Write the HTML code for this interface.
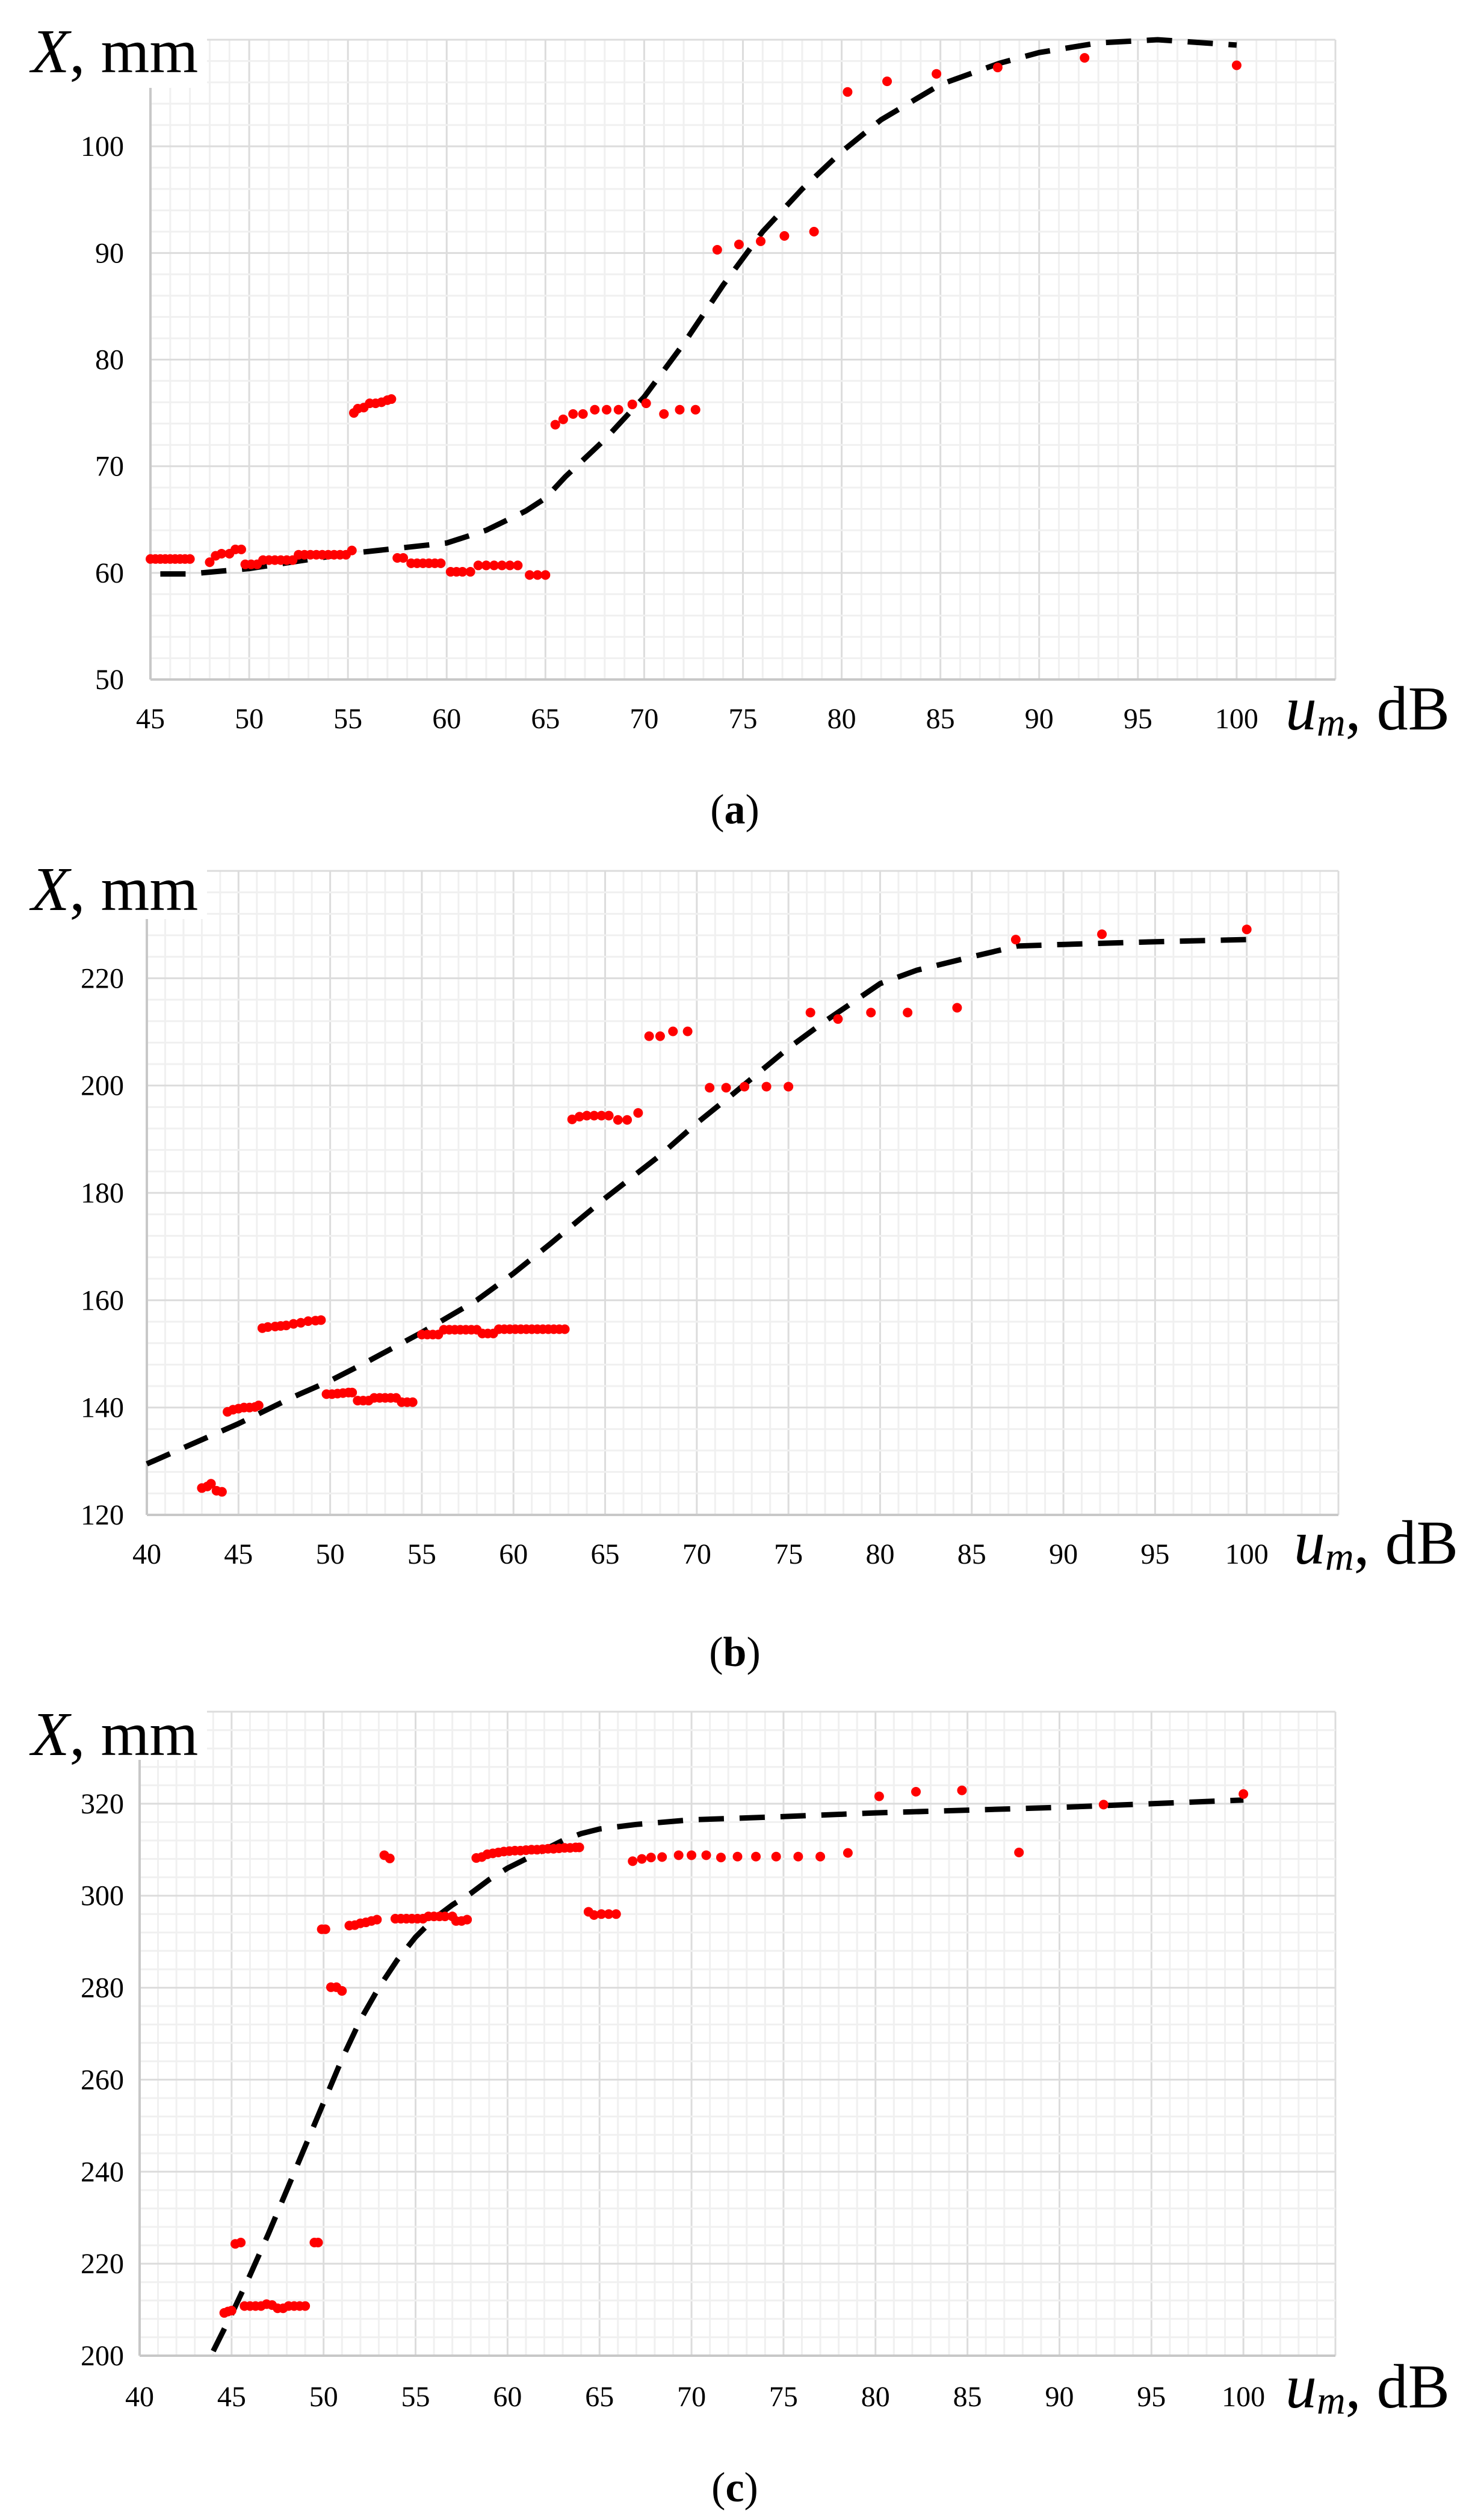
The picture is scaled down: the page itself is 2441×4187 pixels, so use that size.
<!DOCTYPE html>
<html><head><meta charset="utf-8"><style>
html,body{margin:0;padding:0;background:#fff;}
svg{display:block;}
text{font-family:"Liberation Serif",serif;fill:#000;}
</style></head><body>
<svg id="fig" width="2441" height="4187" viewBox="0 0 2441 4187" xmlns="http://www.w3.org/2000/svg"></svg>
<script>
// ---------- Chart (a) data ----------
const aPtsX = [45,45.25,45.5,45.75,46,46.25,46.5,46.75,47, 48,48.3,48.6,49,49.3,49.6, 49.8,50.1,50.4, 50.7,51,51.3,51.6,51.9,52.2, 52.5,52.8,53.1,53.4,53.7,54,54.3,54.6,54.9,55.2,
 55.3,55.5,55.8,56.1,56.4,56.7,57,57.2, 57.5,57.8, 58.2,58.5,58.8,59.1,59.4,59.7, 60.2,60.5,60.8,61.2, 61.6,62,62.4,62.8,63.2,63.6, 64.2,64.6,65,
 65.5,65.9,66.4,66.9,67.5,68.1,68.7,69.4,70.1,71,71.8,72.6, 73.7,74.8,75.9,77.1,78.6, 80.3,82.3,84.8,87.9,92.3,100];
const aPtsY = [61.3,61.3,61.3,61.3,61.3,61.3,61.3,61.3,61.3, 61,61.6,61.8,61.8,62.2,62.2, 60.8,60.8,60.8, 61.2,61.2,61.2,61.2,61.2,61.2, 61.7,61.7,61.7,61.7,61.7,61.7,61.7,61.7,61.7,62.1,
 75,75.4,75.5,75.9,75.9,76,76.2,76.3, 61.4,61.4, 60.9,60.9,60.9,60.9,60.9,60.9, 60.1,60.1,60.1,60.1, 60.7,60.7,60.7,60.7,60.7,60.7, 59.8,59.8,59.8,
 73.9,74.4,74.9,74.9,75.3,75.3,75.3,75.8,75.9,74.9,75.3,75.3, 90.3,90.8,91.1,91.6,92, 105.1,106.1,106.8,107.4,108.3,107.6];
const aFitX = [45.5,47,50,55,60,62,64,65,66,68,70,72,74,76,78,80,82,85,88,90,93,96,100];
const aFitY = [59.9,59.9,60.4,61.8,62.8,64,65.8,67,69,72.5,76.5,81.5,87,92,96,99.5,102.5,105.8,107.8,108.8,109.7,110,109.5];
const aXTicks = [45,50,55,60,65,70,75,80,85,90,95,100];
const aYTicks = [50,60,70,80,90,100];

// ---------- Chart (b) data ----------
const bPtsX = [43,43.3,43.5,43.8,44.1, 44.4,44.7,45,45.3,45.6,45.9,46.1, 46.3,46.6,47,47.3,47.6,48,48.4,48.8,49.2,49.5,
 49.8,50.1,50.4,50.7,51,51.2, 51.5,51.8,52.1, 52.4,52.7,53,53.3,53.6, 53.9,54.2,54.5,
 55,55.3,55.6,55.9, 56.2,56.5,56.8,57.1,57.4,57.7,58, 58.3,58.6,58.9, 59.2,59.5,59.8,60.1,60.4,60.7,61,61.3,61.6,61.9,62.2,62.5,62.8,
 63.2,63.6,64,64.4,64.8,65.2,65.7,66.2,66.8, 67.4,68,68.7,69.5, 70.7,71.6,72.6,73.8,75, 76.2,77.7,79.5,81.5,84.2, 87.4,92.1,100];
const bPtsY = [125,125.3,125.8,124.5,124.3, 139.2,139.6,139.8,140,140,140.1,140.4, 154.8,155,155.1,155.2,155.3,155.6,155.8,156.1,156.2,156.3,
 142.5,142.5,142.6,142.7,142.8,142.8, 141.3,141.3,141.3, 141.8,141.8,141.8,141.8,141.8, 141,141,141,
 153.6,153.6,153.6,153.6, 154.5,154.5,154.5,154.5,154.5,154.5,154.5, 153.8,153.8,153.8, 154.6,154.6,154.6,154.6,154.6,154.6,154.6,154.6,154.6,154.6,154.6,154.6,154.6,
 193.7,194.2,194.4,194.4,194.4,194.4,193.6,193.6,194.9, 209.2,209.2,210.1,210.1, 199.6,199.6,199.8,199.8,199.8, 213.6,212.4,213.6,213.6,214.5, 227.2,228.2,229.1];
const bFitX = [40,42,45,48,50,52,55,58,60,62,65,68,70,72,75,77,80,82,85,87.5,90,95,100];
const bFitY = [129.5,132.5,137,142,145,148.5,154,160,165,170.5,179,187,193,198.5,207,212,219,221.5,224,226,226.3,226.8,227.2];
const bXTicks = [40,45,50,55,60,65,70,75,80,85,90,95,100];
const bYTicks = [120,140,160,180,200,220];

// ---------- Chart (c) data ----------
const cPtsX = [44.6,44.8,45, 45.2,45.5, 45.7,46,46.3,46.6,46.9,47.2,47.5,47.8,48.1,48.4,48.7,49, 49.5,49.7, 49.9,50.1, 50.4,50.7,51,
 51.4,51.7,52,52.3,52.6,52.9, 53.3,53.6, 53.9,54.2,54.5,54.8,55.1,55.4,55.7,56,56.3,56.6,57, 57.2,57.5,57.8,
 58.3,58.6,58.9,59.2,59.5,59.8,60.1,60.4,60.7,61,61.3,61.6,61.9,62.2,62.5,62.8,63.1,63.4,63.7,63.9,
 64.4,64.7,65.1,65.5,65.9, 66.8,67.3,67.8,68.4,69.3,70,70.8,71.6,72.5,73.5,74.6,75.8,77,78.5, 80.2,82.2,84.7,87.8,92.4,100];
const cPtsY = [209.3,209.6,209.8, 224.3,224.6, 210.8,210.8,210.8,210.8,211.2,211,210.3,210.3,210.8,210.8,210.8,210.8, 224.6,224.6, 292.7,292.7, 280.1,280.1,279.3,
 293.5,293.6,294,294.2,294.5,294.8, 308.8,308.1, 295,295,295,295,295,295,295.5,295.5,295.5,295.5,295.5, 294.5,294.5,294.8,
 308.2,308.4,309,309.2,309.4,309.6,309.7,309.8,309.8,309.9,310,310,310.1,310.2,310.2,310.3,310.4,310.4,310.5,310.5,
 296.5,295.8,296,296,296, 307.5,308,308.3,308.4,308.8,308.8,308.8,308.3,308.5,308.5,308.5,308.5,308.5,309.3, 321.6,322.6,322.9,309.4,319.8,322.1];
const cFitX = [44,45,46,47,48,49,50,51,52,53,54,55,56,57,58,59,60,61,62,63,64,65,67,70,75,80,85,90,95,100];
const cFitY = [201,209,217.5,226.5,236,245.5,255,264.5,273,280,286,291,295,298,300.5,303.5,306,308,310,312,313.5,314.5,315.5,316.5,317.2,318,318.6,319.2,320,320.8];
const cXTicks = [40,45,50,55,60,65,70,75,80,85,90,95,100];
const cYTicks = [200,220,240,260,280,300,320];

const NS = 'http://www.w3.org/2000/svg';
const svg = document.getElementById('fig');
function mk(tag, attrs, parent) {
  const e = document.createElementNS(NS, tag);
  for (const k in attrs) e.setAttribute(k, attrs[k]);
  (parent || svg).appendChild(e);
  return e;
}

function drawChart(c) {
  const g = mk('g', {});
  
  
  const sx = v => c.L + (v - c.xmin) / (c.xmax - c.xmin) * (c.R - c.L);
  const sy = v => c.B - (v - c.ymin) / (c.ymax - c.ymin) * (c.B - c.T);
  // minor grid
  const grid = mk('g', {}, g);
  
  
  for (let v = c.xmin; v <= c.xmax + 1e-6; v += 1) {
    const major = Math.abs(v % 5) < 1e-6;
    mk('line', {x1: sx(v), x2: sx(v), y1: c.T, y2: c.B, stroke: major ? '#dcdcdc' : '#f0f0f0', 'stroke-width': 3}, grid);
  }
  for (let v = c.ymin; v <= c.ymax + 1e-6; v += c.yminor) {
    const major = Math.abs((v - c.ymin) % c.ymajor) < 1e-6;
    mk('line', {x1: c.L, x2: c.R, y1: sy(v), y2: sy(v), stroke: major ? '#dcdcdc' : '#f0f0f0', 'stroke-width': 3}, grid);
  }
  // axis lines
  const ax = mk('line', {x1: c.L, x2: c.L, y1: c.T, y2: c.B, stroke: '#c8c8c8', 'stroke-width': 4}, g);
  
  
  const bx = mk('line', {x1: c.L, x2: c.R, y1: c.B, y2: c.B, stroke: '#c8c8c8', 'stroke-width': 4}, g);
  
  
  // white box behind y label
  mk('rect', {x: 0, y: c.T - 20, width: 344, height: 100, fill: '#fff'}, g);
  // ticks
  c.xTicks.forEach(t => {
    const tx = mk('text', {x: sx(t), y: c.xTickY, 'text-anchor': 'middle', 'font-size': 48}, g);
    tx.textContent = t;
    
    
  });
  c.yTicks.forEach(t => {
    const ty = mk('text', {x: 206, y: sy(t) + 16, 'text-anchor': 'end', 'font-size': 48}, g);
    ty.textContent = t;
    
    
  });
  // fit curve
  const d = c.fx.map((x, i) => (i ? 'L' : 'M') + sx(x).toFixed(1) + ' ' + sy(c.fy[i]).toFixed(1)).join(' ');
  const p = mk('path', {d: d, fill: 'none', stroke: '#000', 'stroke-width': 9, 'stroke-dasharray': '42 26'}, g);
  
  
  // points
  c.px.forEach((x, i) => {
    const pt = mk('circle', {cx: sx(x), cy: sy(c.py[i]), r: 8, fill: '#f00'}, g);
    
    
  });
  // y axis title
  const yt = mk('text', {x: 52, y: c.ytY, 'font-size': 104}, g);
  
  
  yt.innerHTML = '<tspan font-style="italic">X</tspan>, mm';
  // x axis title
  const xt = mk('text', {x: c.xtX, y: c.xtY, 'font-size': 104}, g);
  
  
  xt.innerHTML = '<tspan font-style="italic">u</tspan><tspan font-style="italic" font-size="66" dy="10">m</tspan><tspan dy="-10">, dB</tspan>';
  // caption
  const cap = mk('text', {x: 1221, y: c.capY, 'text-anchor': 'middle', 'font-size': 70}, g);
  
  
  cap.innerHTML = '(<tspan font-weight="bold">' + c.id + '</tspan>)';
}

drawChart({id: 'a', L: 250, R: 2219, T: 66, B: 1129, xmin: 45, xmax: 105, ymin: 50, ymax: 110, ymajor: 10, yminor: 2,
  xTicks: aXTicks, yTicks: aYTicks, px: aPtsX, py: aPtsY, fx: aFitX, fy: aFitY,
  xTickY: 1210, ytY: 120, xtX: 2136, xtY: 1212, capY: 1368});
drawChart({id: 'b', L: 244, R: 2224, T: 1447, B: 2517, xmin: 40, xmax: 105, ymin: 120, ymax: 240, ymajor: 20, yminor: 4,
  xTicks: bXTicks, yTicks: bYTicks, px: bPtsX, py: bPtsY, fx: bFitX, fy: bFitY,
  xTickY: 2598, ytY: 1512, xtX: 2150, xtY: 2598, capY: 2768});
drawChart({id: 'c', L: 232, R: 2219, T: 2844, B: 3914, xmin: 40, xmax: 105, ymin: 200, ymax: 340, ymajor: 20, yminor: 4,
  xTicks: cXTicks, yTicks: cYTicks, px: cPtsX, py: cPtsY, fx: cFitX, fy: cFitY,
  xTickY: 3998, ytY: 2916, xtX: 2136, xtY: 4000, capY: 4156});
</script>
</body></html>
